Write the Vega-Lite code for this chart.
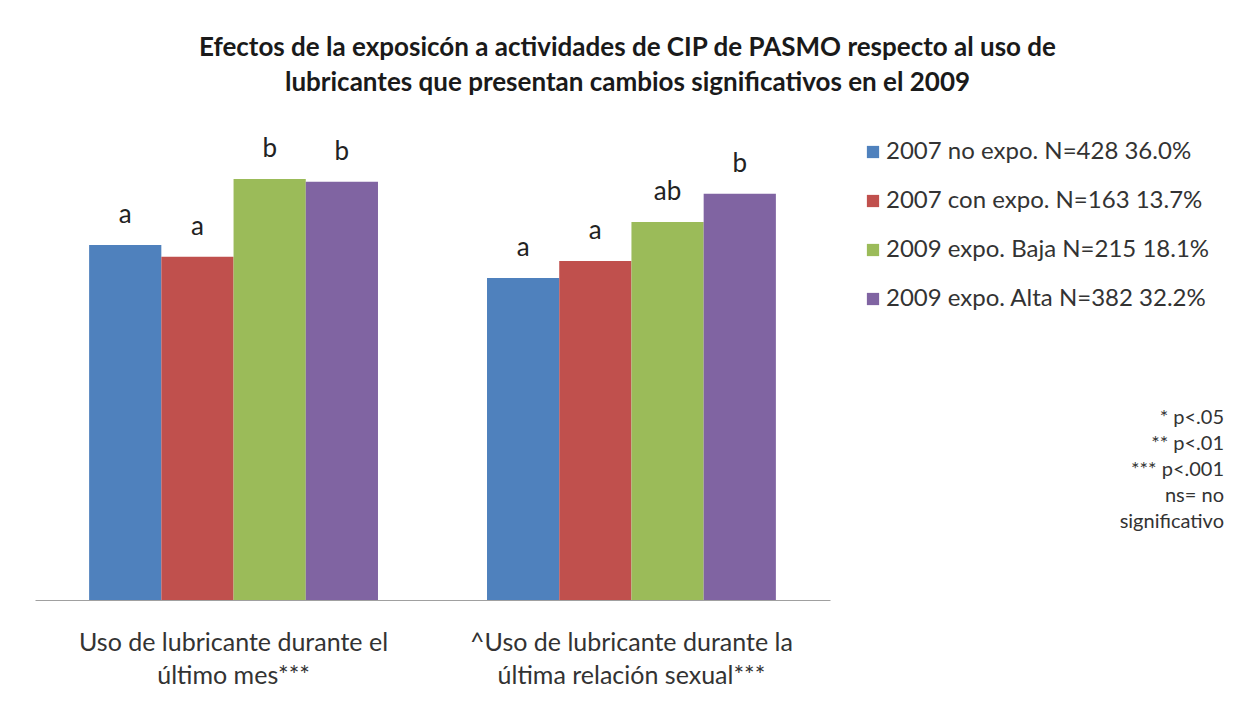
{
  "$schema": "https://vega.github.io/schema/vega-lite/v6.json",
  "width": 795,
  "height": 460,
  "padding": {"left": 35, "top": 35, "right": 10, "bottom": 10},
  "background": "white",
  "title": {
    "text": ["Efectos de la exposicón a actividades de CIP de PASMO respecto al uso de", "lubricantes que presentan cambios significativos en el 2009"],
    "fontSize": 26,
    "fontWeight": "bold",
    "font": "Lato",
    "color": "#1a1a1a",
    "lineHeight": 35,
    "anchor": "middle",
    "dx": 195,
    "offset": 40
  },
  "config": {"view": {"stroke": null}, "font": "Lato"},
  "datasets": {
    "bars": [
      {"grupo": "Uso de lubricante durante el|último mes***", "serie": "2007 no expo. N=428 36.0%", "valor": 77.2, "letra": "a"},
      {"grupo": "Uso de lubricante durante el|último mes***", "serie": "2007 con expo.  N=163 13.7%", "valor": 74.6, "letra": "a"},
      {"grupo": "Uso de lubricante durante el|último mes***", "serie": "2009 expo. Baja N=215 18.1%", "valor": 91.5, "letra": "b"},
      {"grupo": "Uso de lubricante durante el|último mes***", "serie": "2009 expo. Alta N=382 32.2%", "valor": 90.9, "letra": "b"},
      {"grupo": "^Uso de lubricante durante la|última relación sexual***", "serie": "2007 no expo. N=428 36.0%", "valor": 70.0, "letra": "a"},
      {"grupo": "^Uso de lubricante durante la|última relación sexual***", "serie": "2007 con expo.  N=163 13.7%", "valor": 73.7, "letra": "a"},
      {"grupo": "^Uso de lubricante durante la|última relación sexual***", "serie": "2009 expo. Baja N=215 18.1%", "valor": 82.2, "letra": "ab"},
      {"grupo": "^Uso de lubricante durante la|última relación sexual***", "serie": "2009 expo. Alta N=382 32.2%", "valor": 88.3, "letra": "b"}
    ],
    "notes": [
      {"nota": "* p<.05"},
      {"nota": "** p<.01"},
      {"nota": "*** p<.001"},
      {"nota": "ns= no"},
      {"nota": "significativo"}
    ]
  },
  "layer": [
    {
      "data": {"name": "bars"},
      "mark": {"type": "bar"},
      "encoding": {
        "x": {
          "field": "grupo", "type": "nominal", "sort": null,
          "scale": {"paddingInner": 0.274, "paddingOuter": 0.136},
          "axis": {
            "title": null, "ticks": false, "labelAngle": 0, "domainColor": "#a0a0a0",
            "labelFontSize": 25, "labelColor": "#333333", "labelPadding": 30,
            "labelLineHeight": 33, "labelLimit": 500,
            "labelExpr": "split(datum.label, '|')"
          }
        },
        "xOffset": {"field": "serie", "type": "nominal", "sort": null, "scale": {"paddingInner": 0, "paddingOuter": 0}},
        "y": {"field": "valor", "type": "quantitative", "scale": {"domain": [0, 100]}, "axis": null},
        "color": {
          "field": "serie", "type": "nominal", "sort": null,
          "scale": {
            "domain": ["2007 no expo. N=428 36.0%", "2007 con expo.  N=163 13.7%", "2009 expo. Baja N=215 18.1%", "2009 expo. Alta N=382 32.2%"],
            "range": ["#4F81BD", "#C0504D", "#9BBB59", "#8064A2"]
          },
          "legend": {
            "title": null, "orient": "none", "legendX": 826, "legendY": 0,
            "symbolType": "square", "symbolSize": 150, "symbolStrokeWidth": 0,
            "labelFontSize": 24, "labelColor": "#333333", "rowPadding": 25, "labelOffset": 1, "labelLimit": 400
          }
        }
      }
    },
    {
      "data": {"name": "bars"},
      "mark": {"type": "text", "baseline": "alphabetic", "dy": -22, "fontSize": 26, "color": "#222222"},
      "encoding": {
        "x": {"field": "grupo", "type": "nominal", "sort": null},
        "xOffset": {"field": "serie", "type": "nominal", "sort": null},
        "y": {"field": "valor", "type": "quantitative"},
        "text": {"field": "letra"}
      }
    },
    {
      "data": {"name": "notes"},
      "mark": {"type": "point", "opacity": 0},
      "encoding": {
        "shape": {
          "field": "nota", "type": "nominal",
          "scale": {"domain": ["* p<.05", "** p<.01", "*** p<.001", "ns= no", "significativo"]},
          "legend": {
            "title": null, "orient": "none", "legendX": 1169, "legendY": 268,
            "symbolSize": 1, "symbolOpacity": 0, "labelOffset": 0,
            "labelAlign": "right", "labelFontSize": 20, "labelColor": "#333333",
            "rowPadding": 6, "labelLimit": 300
          }
        }
      }
    }
  ]
}
